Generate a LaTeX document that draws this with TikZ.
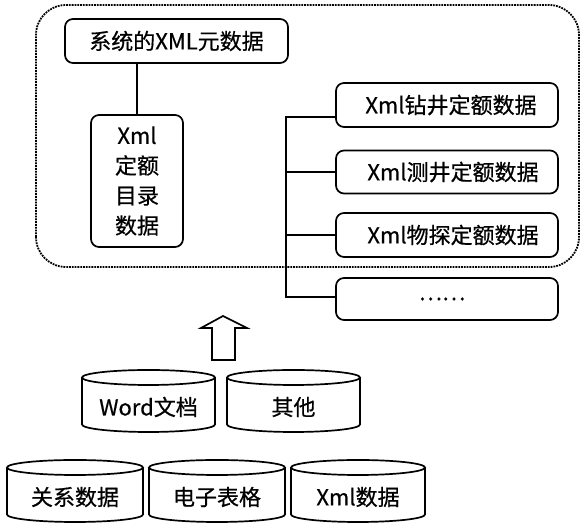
\documentclass[tikz,border=0pt]{standalone}
\usepackage{fontspec}
\setmainfont{Noto Sans CJK SC}[FakeBold=0.6]
\begin{document}
\begin{tikzpicture}[x=1pt,y=1pt,line width=1.7pt,
  box/.style={draw,rounded corners=8pt,inner sep=0pt,align=center,font=\fontsize{22}{30}\selectfont},
  lbl/.style={inner sep=0pt,font=\fontsize{22}{30}\selectfont},
  frame/.style={draw,densely dotted,line width=1.8pt,rounded corners=30pt}]
\useasboundingbox (0,0) rectangle (584,526);
% dotted frame
\draw[frame] (36,259) rectangle (579,521);
% top box
\node[box,minimum width=223pt,minimum height=44pt] (meta) at (176.5,485) {系统的XML元数据};
\node[box,minimum width=92pt,minimum height=132pt] (dir) at (137,345) {Xml\\定额\\目录\\数据};
\draw (meta.south -| dir.north) -- (dir.north);
% right boxes
\node[box,minimum width=222pt,minimum height=44pt] (b1) at (447,421) {\hspace*{8pt}Xml钻井定额数据};
\node[box,minimum width=222pt,minimum height=43pt] (b2) at (447,354) {\hspace*{12pt}Xml测井定额数据};
\node[box,minimum width=222pt,minimum height=44pt] (b3) at (447,291) {\hspace*{12pt}Xml物探定额数据};
\node[box,minimum width=222pt,minimum height=42pt] (b4) at (447,227) {\hspace*{-10pt}……};
\coordinate (t1) at (286,409);
\coordinate (t4) at (286,229);
\draw (b1.west |- t1) -- (t1) -- (t4) -- (t4 -| b4.west);
\draw (b2.west) -- (b2.west -| t1);
\draw (b3.west) -- (b3.west -| t1);
% hollow arrow
\draw[line join=miter] (212,166) -- (212,198) -- (201,198) -- (223,210) -- (247,198) -- (235,198) -- (235,166) -- cycle;
% cylinders
\newcommand{\cyl}[6]{% name, x1, x2, ytop, ybot, text
  \pgfmathsetmacro{\cx}{(#2+#3)/2}
  \pgfmathsetmacro{\rx}{(#3-#2)/2}
  \draw (\cx,#4-7.5) ellipse [x radius=\rx, y radius=7.5];
  \draw (#2,#4-7.5) -- (#2,#5+7.5) arc[start angle=180,end angle=360,x radius=\rx,y radius=7.5] -- (#3,#4-7.5);
  \node[lbl] (#1) at (\cx,{(#4+#5)/2-6}) {#6};
}
\cyl{word}{82}{215}{156}{94}{Word文档}
\cyl{other}{227}{360}{156}{94}{其他}
\cyl{rel}{7}{143}{66}{4}{关系数据}
\cyl{sheet}{149}{285}{66}{4}{电子表格}
\cyl{xmld}{291}{425}{66}{4}{Xml数据}
\end{tikzpicture}
\end{document}
